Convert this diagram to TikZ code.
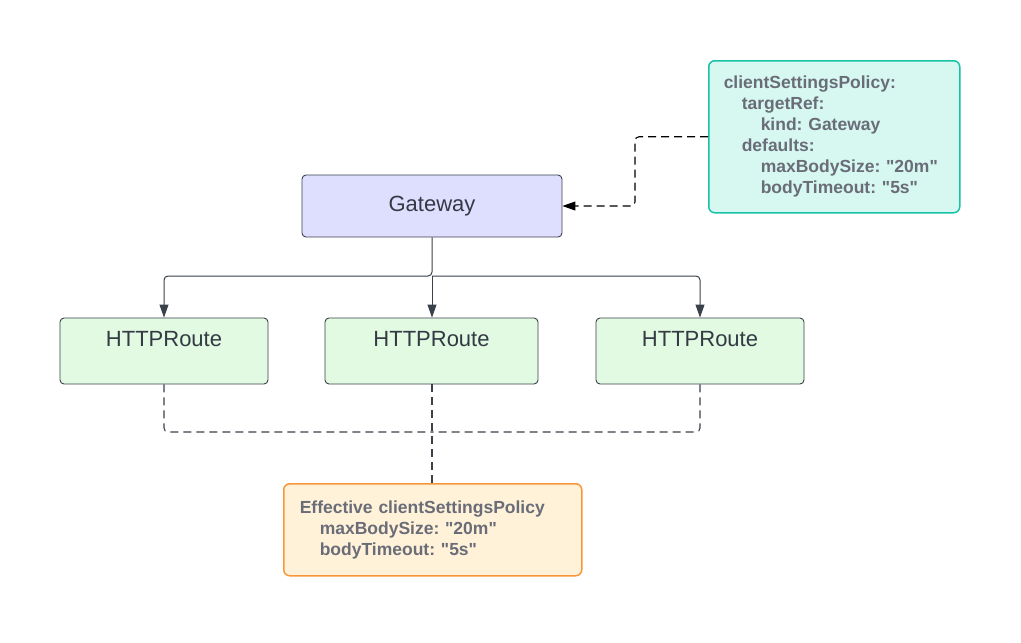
\documentclass[tikz,border=0pt]{standalone}
\usepackage{fontspec}
\setmainfont{Liberation Sans}
\usetikzlibrary{positioning,arrows.meta}
\definecolor{linegray}{HTML}{3A414A}
\definecolor{darktext}{HTML}{333A44}
\definecolor{policytext}{HTML}{6A6D78}
\definecolor{gatefill}{HTML}{DEDFFF}
\definecolor{routefill}{HTML}{E2F9E2}
\definecolor{policyfill}{HTML}{D6F8F1}
\definecolor{policyline}{HTML}{19C2A7}
\definecolor{efffill}{HTML}{FFF2D9}
\definecolor{effline}{HTML}{F8963B}
\newcommand{\qv}[1]{\textquotedbl#1\textquotedbl}
\frenchspacing
\tikzstyle{resource} = [draw=linegray, rounded corners=4pt, line width=0.9pt, text=darktext, font=\fontsize{22}{26}\selectfont]
\tikzstyle{gatebox} = [resource, fill=gatefill, minimum width=260pt, minimum height=62pt]
\tikzstyle{routebox} = [resource, fill=routefill, minimum width=208pt, minimum height=66pt, text depth=24pt]
\tikzstyle{policy} = [rectangle, rounded corners=6pt, line width=1.5pt, anchor=north west, align=left, text=policytext, font=\bfseries\fontsize{17.5}{21}\selectfont]
\tikzstyle{edge} = [->, >={Triangle[width=9pt,length=13pt]}, draw=linegray, line width=1pt, rounded corners=4pt]
\tikzstyle{link} = [dash pattern=on 8pt off 5pt, line width=1.1pt, rounded corners=4pt]

\begin{document}
\begin{tikzpicture}[x=1pt, y=-1pt]
	\useasboundingbox (0,0) rectangle (1021,643);

	\node[gatebox] (gw) at ( 432, 206 ) {Gateway};
	\node[routebox] (r1) at ( 164, 351 ) {HTTPRoute};
	\node[routebox, minimum width=213pt] (r2) at ( 431.5, 351 ) {HTTPRoute};
	\node[routebox] (r3) at ( 700, 351 ) {HTTPRoute};

	\node[policy, draw=policyline, fill=policyfill, minimum width=251pt, minimum height=152pt, inner xsep=15pt, text width=221pt] (pol) at ( 708, 60 ) {clientSettingsPolicy:\\
		\hspace*{18pt}targetRef:\\
		\hspace*{37pt}kind: Gateway\\
		\hspace*{18pt}defaults:\\
		\hspace*{37pt}maxBodySize: \qv{20m}\\
		\hspace*{37pt}bodyTimeout: \qv{5s}};
	\node[policy, draw=effline, fill=efffill, minimum width=298pt, minimum height=92pt, inner xsep=16pt, text width=266pt] (eff) at ( 283, 483 ) {Effective clientSettingsPolicy\\
		\hspace*{20pt}maxBodySize: \qv{20m}\\
		\hspace*{20pt}bodyTimeout: \qv{5s}};

	\coordinate (split) at ( 432, 276 );
	\coordinate (merge) at ( 432, 432 );

	\draw[edge] (gw.south) -- (split) -| (r1.north);
	\draw[edge] (split) -| (r3.north);
	\draw[edge] (split) -- (split |- r2.north);

	\draw[link, draw=linegray] (r1.south) |- (merge);
	\draw[link, draw=linegray] (r3.south) |- (merge);
	\draw[link, draw=linegray] (r2.south -| merge) -- (merge) -- (eff.north -| merge);

	\draw[link, ->, >={Triangle[width=9pt,length=13pt]}] (pol.west) -- ++(-73,0) |- (gw.east);
\end{tikzpicture}
\end{document}
